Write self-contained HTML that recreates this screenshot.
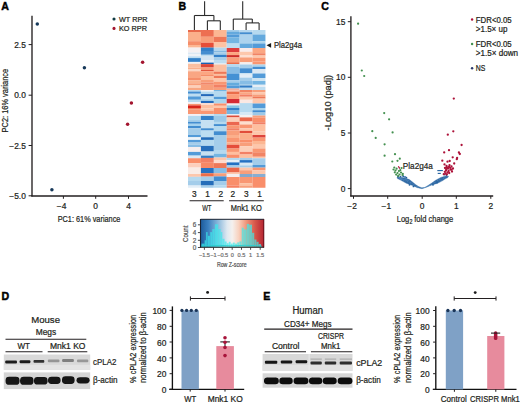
<!DOCTYPE html>
<html><head><meta charset="utf-8"><title>Figure</title>
<style>
html,body{margin:0;padding:0;background:#fff;width:520px;height:404px;overflow:hidden}
svg{display:block;font-family:"Liberation Sans", sans-serif}
text{stroke:currentColor;stroke-width:0.22px}
text.b{stroke-width:0.45px}
</style></head><body>
<svg width="520" height="404" viewBox="0 0 520 404">
<rect width="520" height="404" fill="#fff"/>
<text x="1.2" y="10.2" font-size="10.6" font-weight="bold" class="b" fill="#000" color="#000">A</text>
<line x1="32" y1="15.8" x2="32" y2="196.6" stroke="#231f20" stroke-width="1.35"/>
<line x1="31.4" y1="196" x2="147.5" y2="196" stroke="#231f20" stroke-width="1.35"/>
<line x1="28.6" y1="44.6" x2="32" y2="44.6" stroke="#231f20" stroke-width="1"/>
<text x="25.8" y="47.7" font-size="8.4" text-anchor="end" fill="#231f20" color="#231f20">2.5</text>
<line x1="28.6" y1="95.2" x2="32" y2="95.2" stroke="#231f20" stroke-width="1"/>
<text x="25.8" y="98.3" font-size="8.4" text-anchor="end" fill="#231f20" color="#231f20">0.0</text>
<line x1="28.6" y1="145.5" x2="32" y2="145.5" stroke="#231f20" stroke-width="1"/>
<text x="25.8" y="148.6" font-size="8.4" text-anchor="end" fill="#231f20" color="#231f20">−2.5</text>
<line x1="28.6" y1="195.8" x2="32" y2="195.8" stroke="#231f20" stroke-width="1"/>
<text x="25.8" y="198.9" font-size="8.4" text-anchor="end" fill="#231f20" color="#231f20">−5.0</text>
<line x1="63.4" y1="196" x2="63.4" y2="198.8" stroke="#231f20" stroke-width="1"/>
<text x="61.6" y="209.0" font-size="8.4" text-anchor="middle" fill="#231f20" color="#231f20">−4</text>
<line x1="95.7" y1="196" x2="95.7" y2="198.8" stroke="#231f20" stroke-width="1"/>
<text x="95.7" y="209.0" font-size="8.4" text-anchor="middle" fill="#231f20" color="#231f20">0</text>
<line x1="128.5" y1="196" x2="128.5" y2="198.8" stroke="#231f20" stroke-width="1"/>
<text x="128.5" y="209.0" font-size="8.4" text-anchor="middle" fill="#231f20" color="#231f20">4</text>
<text x="57.7" y="222" font-size="9.6" textLength="62.7" lengthAdjust="spacingAndGlyphs" fill="#231f20" color="#231f20">PC1: 61% variance</text>
<g transform="translate(8.4,132.4) rotate(-90)"><text x="0" y="0" font-size="9.6" textLength="63.5" lengthAdjust="spacingAndGlyphs" fill="#231f20" color="#231f20">PC2: 16% variance</text></g>
<circle cx="114.0" cy="19.0" r="1.55" fill="#123c42"/>
<circle cx="114.0" cy="28.4" r="1.55" fill="#a3142e"/>
<text x="119" y="21.8" font-size="7.4" textLength="28.5" lengthAdjust="spacingAndGlyphs" fill="#231f20" color="#231f20">WT RPR</text>
<text x="119" y="31.4" font-size="7.4" textLength="28" lengthAdjust="spacingAndGlyphs" fill="#231f20" color="#231f20">KO RPR</text>
<circle cx="37.3" cy="24" r="1.75" fill="#17395a"/>
<circle cx="84.4" cy="67.8" r="1.75" fill="#17395a"/>
<circle cx="51.9" cy="189.8" r="1.75" fill="#17395a"/>
<circle cx="142.6" cy="62.3" r="1.75" fill="#a3142e"/>
<circle cx="131.4" cy="103.1" r="1.75" fill="#a3142e"/>
<circle cx="127.6" cy="124.3" r="1.75" fill="#a3142e"/>
<text x="178.6" y="9.9" font-size="10.6" font-weight="bold" class="b" fill="#000" color="#000">B</text>
<line x1="204.6" y1="1.3" x2="204.6" y2="15.5" stroke="#2b2b2b" stroke-width="1.1"/>
<line x1="194.4" y1="15.5" x2="213.9" y2="15.5" stroke="#2b2b2b" stroke-width="1.1"/>
<line x1="194.4" y1="15.5" x2="194.4" y2="30" stroke="#2b2b2b" stroke-width="1.1"/>
<line x1="213.9" y1="15.5" x2="213.9" y2="20.8" stroke="#2b2b2b" stroke-width="1.1"/>
<line x1="207.4" y1="20.8" x2="220.3" y2="20.8" stroke="#2b2b2b" stroke-width="1.1"/>
<line x1="207.4" y1="20.8" x2="207.4" y2="30" stroke="#2b2b2b" stroke-width="1.1"/>
<line x1="220.3" y1="20.8" x2="220.3" y2="30" stroke="#2b2b2b" stroke-width="1.1"/>
<line x1="242.7" y1="1.3" x2="242.7" y2="19.1" stroke="#2b2b2b" stroke-width="1.1"/>
<line x1="233.3" y1="19.1" x2="252.3" y2="19.1" stroke="#2b2b2b" stroke-width="1.1"/>
<line x1="233.3" y1="19.1" x2="233.3" y2="30" stroke="#2b2b2b" stroke-width="1.1"/>
<line x1="252.3" y1="19.1" x2="252.3" y2="22.9" stroke="#2b2b2b" stroke-width="1.1"/>
<line x1="246.1" y1="22.9" x2="259.1" y2="22.9" stroke="#2b2b2b" stroke-width="1.1"/>
<line x1="246.1" y1="22.9" x2="246.1" y2="30" stroke="#2b2b2b" stroke-width="1.1"/>
<line x1="259.1" y1="22.9" x2="259.1" y2="30" stroke="#2b2b2b" stroke-width="1.1"/>
<g filter="url(#hm)"><rect x="188.0" y="30" width="12.95" height="2.05" fill="#dd6c52"/><rect x="188.0" y="32" width="12.95" height="9.25" fill="#f4b090"/><rect x="188.0" y="41.2" width="12.95" height="3.85" fill="#ec9070"/><rect x="188.0" y="45" width="12.95" height="2.65" fill="#f6b898"/><rect x="188.0" y="47.6" width="12.95" height="4.95" fill="#f4f0f2"/><rect x="188.0" y="52.5" width="12.95" height="1.55" fill="#dce8f2"/><rect x="188.0" y="54" width="12.95" height="2.35" fill="#eef2f6"/><rect x="188.0" y="56.3" width="12.95" height="1.85" fill="#c0dcee"/><rect x="188.0" y="58.1" width="12.95" height="3.85" fill="#3a80c0"/><rect x="188.0" y="61.9" width="12.95" height="1.9" fill="#f0f0f4"/><rect x="188.0" y="63.75" width="12.95" height="3.8" fill="#f6c0a4"/><rect x="188.0" y="67.5" width="12.95" height="1.55" fill="#f4b090"/><rect x="188.0" y="69" width="12.95" height="2.3" fill="#f8d8c8"/><rect x="188.0" y="71.25" width="12.95" height="6.8" fill="#f2a888"/><rect x="188.0" y="78" width="12.95" height="2.3" fill="#ec9070"/><rect x="188.0" y="80.25" width="12.95" height="3.05" fill="#f4b496"/><rect x="188.0" y="83.25" width="12.95" height="2.3" fill="#f0a080"/><rect x="188.0" y="85.5" width="12.95" height="2.3" fill="#f8d0bc"/><rect x="188.0" y="87.75" width="12.95" height="2.3" fill="#f0a888"/><rect x="188.0" y="90" width="12.95" height="1.55" fill="#b8d8ec"/><rect x="188.0" y="91.5" width="12.95" height="2.3" fill="#4a8cc8"/><rect x="188.0" y="93.75" width="12.95" height="2.7" fill="#c0dcee"/><rect x="188.0" y="96.4" width="12.95" height="3.4" fill="#5a9ad0"/><rect x="188.0" y="99.75" width="12.95" height="2.3" fill="#b8d8ec"/><rect x="188.0" y="102" width="12.95" height="1.95" fill="#f4f0f4"/><rect x="188.0" y="103.9" width="12.95" height="1.55" fill="#f09878"/><rect x="188.0" y="105.4" width="12.95" height="2.65" fill="#c82820"/><rect x="188.0" y="108" width="12.95" height="1.55" fill="#e47a5e"/><rect x="188.0" y="109.5" width="12.95" height="4.55" fill="#f09878"/><rect x="188.0" y="114" width="12.95" height="1.95" fill="#f4f0f4"/><rect x="188.0" y="115.9" width="12.95" height="4.15" fill="#b8d8ec"/><rect x="188.0" y="120" width="12.95" height="1.95" fill="#a8cce6"/><rect x="188.0" y="121.9" width="12.95" height="1.9" fill="#4a8cc8"/><rect x="188.0" y="123.75" width="12.95" height="2.3" fill="#a8d0ea"/><rect x="188.0" y="126" width="12.95" height="2.3" fill="#4a8cc8"/><rect x="188.0" y="128.25" width="12.95" height="6.8" fill="#a8cce6"/><rect x="188.0" y="135" width="12.95" height="2.3" fill="#5a9ad0"/><rect x="188.0" y="137.25" width="12.95" height="2.7" fill="#eef4f8"/><rect x="188.0" y="139.9" width="12.95" height="2.65" fill="#5a9ad0"/><rect x="188.0" y="142.5" width="12.95" height="2.3" fill="#a8cce6"/><rect x="188.0" y="144.75" width="12.95" height="2.3" fill="#8cbce0"/><rect x="188.0" y="147" width="12.95" height="4.95" fill="#f4eeee"/><rect x="188.0" y="151.9" width="12.95" height="3.75" fill="#5a9ad0"/><rect x="188.0" y="155.6" width="12.95" height="2.7" fill="#dce8f2"/><rect x="188.0" y="158.25" width="12.95" height="4.9" fill="#f09070"/><rect x="188.0" y="163.1" width="12.95" height="4.55" fill="#f8d0c0"/><rect x="188.0" y="167.6" width="12.95" height="6.45" fill="#f8ece8"/><rect x="188.0" y="174" width="12.95" height="2.85" fill="#f8c8b0"/><rect x="188.0" y="176.8" width="12.95" height="4.25" fill="#b8d8ec"/><rect x="188.0" y="181" width="12.95" height="4.55" fill="#a8cce6"/><rect x="188.0" y="185.5" width="12.95" height="2.25" fill="#e4eef6"/><rect x="200.9" y="30" width="12.95" height="6.8" fill="#e27258"/><rect x="200.9" y="36.75" width="12.95" height="6.05" fill="#f0a080"/><rect x="200.9" y="42.75" width="12.95" height="4.9" fill="#d9503e"/><rect x="200.9" y="47.6" width="12.95" height="3.45" fill="#3a7fc0"/><rect x="200.9" y="51" width="12.95" height="3.8" fill="#4a8cc8"/><rect x="200.9" y="54.75" width="12.95" height="1.2" fill="#b8d8ec"/><rect x="200.9" y="55.9" width="12.95" height="4.15" fill="#d4e4f0"/><rect x="200.9" y="60" width="12.95" height="2.65" fill="#eaf0f6"/><rect x="200.9" y="62.6" width="12.95" height="1.55" fill="#2060a8"/><rect x="200.9" y="64.1" width="12.95" height="3.45" fill="#d04a3c"/><rect x="200.9" y="67.5" width="12.95" height="2.3" fill="#f0a080"/><rect x="200.9" y="69.75" width="12.95" height="1.55" fill="#d65a44"/><rect x="200.9" y="71.25" width="12.95" height="3.8" fill="#f4a888"/><rect x="200.9" y="75" width="12.95" height="1.55" fill="#ec9070"/><rect x="200.9" y="76.5" width="12.95" height="3.05" fill="#f8c0a0"/><rect x="200.9" y="79.5" width="12.95" height="3.05" fill="#f0a080"/><rect x="200.9" y="82.5" width="12.95" height="2.3" fill="#e88a70"/><rect x="200.9" y="84.75" width="12.95" height="5.3" fill="#f0a080"/><rect x="200.9" y="90" width="12.95" height="1.55" fill="#f0f0f4"/><rect x="200.9" y="91.5" width="12.95" height="2.65" fill="#b8d8ec"/><rect x="200.9" y="94.1" width="12.95" height="2.35" fill="#2a68b0"/><rect x="200.9" y="96.4" width="12.95" height="2.25" fill="#c0dcee"/><rect x="200.9" y="98.6" width="12.95" height="2.35" fill="#b0d4ea"/><rect x="200.9" y="100.9" width="12.95" height="2.25" fill="#2a68b0"/><rect x="200.9" y="103.1" width="12.95" height="1.95" fill="#fadcd0"/><rect x="200.9" y="105" width="12.95" height="3.45" fill="#f8c0a4"/><rect x="200.9" y="108.4" width="12.95" height="2.25" fill="#f8c8b0"/><rect x="200.9" y="110.6" width="12.95" height="3.45" fill="#f09878"/><rect x="200.9" y="114" width="12.95" height="1.95" fill="#d8e8f2"/><rect x="200.9" y="115.9" width="12.95" height="4.15" fill="#3a80c0"/><rect x="200.9" y="120" width="12.95" height="8.3" fill="#c8e0f0"/><rect x="200.9" y="128.25" width="12.95" height="2.3" fill="#4a8cc8"/><rect x="200.9" y="130.5" width="12.95" height="6.8" fill="#c0dcee"/><rect x="200.9" y="137.25" width="12.95" height="2.7" fill="#2c6cb0"/><rect x="200.9" y="139.9" width="12.95" height="6.05" fill="#b8d8ec"/><rect x="200.9" y="145.9" width="12.95" height="5.65" fill="#2e6eb2"/><rect x="200.9" y="151.5" width="12.95" height="4.15" fill="#c8e0f0"/><rect x="200.9" y="155.6" width="12.95" height="2.35" fill="#3a7cbc"/><rect x="200.9" y="157.9" width="12.95" height="4.9" fill="#e8826a"/><rect x="200.9" y="162.75" width="12.95" height="5.3" fill="#ec8a6c"/><rect x="200.9" y="168" width="12.95" height="5.3" fill="#2c70b8"/><rect x="200.9" y="173.25" width="12.95" height="3.4" fill="#e07050"/><rect x="200.9" y="176.6" width="12.95" height="4.45" fill="#a8cce6"/><rect x="200.9" y="181" width="12.95" height="4.55" fill="#2c6cb0"/><rect x="200.9" y="185.5" width="12.95" height="2.25" fill="#a8cce6"/><rect x="213.8" y="30" width="12.95" height="6.8" fill="#f6b898"/><rect x="213.8" y="36.75" width="12.95" height="5.3" fill="#e47a5e"/><rect x="213.8" y="42" width="12.95" height="5.65" fill="#f8c4a8"/><rect x="213.8" y="47.6" width="12.95" height="3.05" fill="#b8d6ec"/><rect x="213.8" y="50.6" width="12.95" height="1.95" fill="#8ab8dc"/><rect x="213.8" y="52.5" width="12.95" height="2.3" fill="#a8cce6"/><rect x="213.8" y="54.75" width="12.95" height="2.3" fill="#3a7fc0"/><rect x="213.8" y="57" width="12.95" height="3.05" fill="#a8cce6"/><rect x="213.8" y="60" width="12.95" height="3.05" fill="#c0dcee"/><rect x="213.8" y="63" width="12.95" height="1.55" fill="#e0ecf4"/><rect x="213.8" y="64.5" width="12.95" height="7.15" fill="#f6c0a4"/><rect x="213.8" y="71.6" width="12.95" height="2.35" fill="#e47a5e"/><rect x="213.8" y="73.9" width="12.95" height="1.9" fill="#f6c0a4"/><rect x="213.8" y="75.75" width="12.95" height="2.3" fill="#e47a5e"/><rect x="213.8" y="78" width="12.95" height="3.8" fill="#f8c8b0"/><rect x="213.8" y="81.75" width="12.95" height="3.05" fill="#f09878"/><rect x="213.8" y="84.75" width="12.95" height="3.05" fill="#e8826a"/><rect x="213.8" y="87.75" width="12.95" height="2.3" fill="#f0a080"/><rect x="213.8" y="90" width="12.95" height="1.55" fill="#7ab4dc"/><rect x="213.8" y="91.5" width="12.95" height="5.3" fill="#b8d8ec"/><rect x="213.8" y="96.75" width="12.95" height="2.3" fill="#5a9ad0"/><rect x="213.8" y="99" width="12.95" height="4.55" fill="#b0d4ea"/><rect x="213.8" y="103.5" width="12.95" height="2.3" fill="#f09070"/><rect x="213.8" y="105.75" width="12.95" height="2.3" fill="#f8c8b0"/><rect x="213.8" y="108" width="12.95" height="6.05" fill="#f09070"/><rect x="213.8" y="114" width="12.95" height="1.95" fill="#b8d8ec"/><rect x="213.8" y="115.9" width="12.95" height="6.05" fill="#a0c8e4"/><rect x="213.8" y="121.9" width="12.95" height="2.25" fill="#b8d8ec"/><rect x="213.8" y="124.1" width="12.95" height="1.95" fill="#4a8cc8"/><rect x="213.8" y="126" width="12.95" height="5.3" fill="#b8d8ec"/><rect x="213.8" y="131.25" width="12.95" height="3.8" fill="#4a8cc8"/><rect x="213.8" y="135" width="12.95" height="15.05" fill="#a8cce6"/><rect x="213.8" y="150" width="12.95" height="3.8" fill="#b8d8ec"/><rect x="213.8" y="153.75" width="12.95" height="3.8" fill="#7ab4dc"/><rect x="213.8" y="157.5" width="12.95" height="3.05" fill="#f8c8b0"/><rect x="213.8" y="160.5" width="12.95" height="2.65" fill="#fadcd0"/><rect x="213.8" y="163.1" width="12.95" height="4.95" fill="#e47a5e"/><rect x="213.8" y="168" width="12.95" height="5.3" fill="#8cbce0"/><rect x="213.8" y="173.25" width="12.95" height="3.2" fill="#f0a080"/><rect x="213.8" y="176.4" width="12.95" height="4.65" fill="#4a8cc8"/><rect x="213.8" y="181" width="12.95" height="4.55" fill="#a8cce6"/><rect x="213.8" y="185.5" width="12.95" height="2.25" fill="#b8d8ec"/><rect x="226.7" y="30" width="12.95" height="1.55" fill="#a8cce6"/><rect x="226.7" y="31.5" width="12.95" height="3.05" fill="#6aa8d6"/><rect x="226.7" y="34.5" width="12.95" height="3.05" fill="#5a9ad0"/><rect x="226.7" y="37.5" width="12.95" height="6.05" fill="#7ab4dc"/><rect x="226.7" y="43.5" width="12.95" height="4.55" fill="#c0dcee"/><rect x="226.7" y="48" width="12.95" height="4.15" fill="#d04040"/><rect x="226.7" y="52.1" width="12.95" height="3.05" fill="#f4a888"/><rect x="226.7" y="55.1" width="12.95" height="2.35" fill="#c0302c"/><rect x="226.7" y="57.4" width="12.95" height="4.9" fill="#f2a080"/><rect x="226.7" y="62.25" width="12.95" height="1.9" fill="#e07050"/><rect x="226.7" y="64.1" width="12.95" height="2.7" fill="#b8d8ec"/><rect x="226.7" y="66.75" width="12.95" height="6.8" fill="#8cbce0"/><rect x="226.7" y="73.5" width="12.95" height="6.8" fill="#4a90cc"/><rect x="226.7" y="80.25" width="12.95" height="2.3" fill="#a8cce6"/><rect x="226.7" y="82.5" width="12.95" height="3.05" fill="#6aaad6"/><rect x="226.7" y="85.5" width="12.95" height="3.05" fill="#5a9ad0"/><rect x="226.7" y="88.5" width="12.95" height="1.55" fill="#f0b0a0"/><rect x="226.7" y="90" width="12.95" height="1.55" fill="#f4c0b0"/><rect x="226.7" y="91.5" width="12.95" height="2.65" fill="#e07050"/><rect x="226.7" y="94.1" width="12.95" height="4.95" fill="#f4a080"/><rect x="226.7" y="99" width="12.95" height="4.55" fill="#c83038"/><rect x="226.7" y="103.5" width="12.95" height="1.95" fill="#f4ecec"/><rect x="226.7" y="105.4" width="12.95" height="2.65" fill="#8cc4e0"/><rect x="226.7" y="108" width="12.95" height="2.65" fill="#3a80c0"/><rect x="226.7" y="110.6" width="12.95" height="3.45" fill="#7ab4dc"/><rect x="226.7" y="114" width="12.95" height="1.55" fill="#e8eef4"/><rect x="226.7" y="115.5" width="12.95" height="1.95" fill="#d05040"/><rect x="226.7" y="117.4" width="12.95" height="4.55" fill="#f8d0bc"/><rect x="226.7" y="121.9" width="12.95" height="3.4" fill="#e06a55"/><rect x="226.7" y="125.25" width="12.95" height="3.05" fill="#f09878"/><rect x="226.7" y="128.25" width="12.95" height="2.3" fill="#e8826a"/><rect x="226.7" y="130.5" width="12.95" height="4.55" fill="#f0a080"/><rect x="226.7" y="135" width="12.95" height="3.05" fill="#f4b090"/><rect x="226.7" y="138" width="12.95" height="4.55" fill="#f09878"/><rect x="226.7" y="142.5" width="12.95" height="2.3" fill="#f4b090"/><rect x="226.7" y="144.75" width="12.95" height="3.8" fill="#d85040"/><rect x="226.7" y="148.5" width="12.95" height="3.45" fill="#f09878"/><rect x="226.7" y="151.9" width="12.95" height="2.65" fill="#f8c0a4"/><rect x="226.7" y="154.5" width="12.95" height="3.45" fill="#f09070"/><rect x="226.7" y="157.9" width="12.95" height="2.25" fill="#b8d8ec"/><rect x="226.7" y="160.1" width="12.95" height="2.35" fill="#e8f0f6"/><rect x="226.7" y="162.4" width="12.95" height="3.05" fill="#2c70b8"/><rect x="226.7" y="165.4" width="12.95" height="2.25" fill="#a8cce6"/><rect x="226.7" y="167.6" width="12.95" height="4.95" fill="#e06a50"/><rect x="226.7" y="172.5" width="12.95" height="1.55" fill="#f8c8b0"/><rect x="226.7" y="174" width="12.95" height="3.05" fill="#f4eeee"/><rect x="226.7" y="177" width="12.95" height="8.55" fill="#f09070"/><rect x="226.7" y="185.5" width="12.95" height="2.25" fill="#ec8266"/><rect x="239.6" y="30" width="12.95" height="2.3" fill="#b8d6ec"/><rect x="239.6" y="32.25" width="12.95" height="2.3" fill="#4a8cc8"/><rect x="239.6" y="34.5" width="12.95" height="9.05" fill="#b0d2ea"/><rect x="239.6" y="43.5" width="12.95" height="4.55" fill="#6aa8d6"/><rect x="239.6" y="48" width="12.95" height="3.8" fill="#f8ecec"/><rect x="239.6" y="51.75" width="12.95" height="3.8" fill="#f8c8b0"/><rect x="239.6" y="55.5" width="12.95" height="1.95" fill="#fae0d4"/><rect x="239.6" y="57.4" width="12.95" height="4.9" fill="#f0a080"/><rect x="239.6" y="62.25" width="12.95" height="2.3" fill="#f4eeee"/><rect x="239.6" y="64.5" width="12.95" height="3.8" fill="#a8cce6"/><rect x="239.6" y="68.25" width="12.95" height="4.9" fill="#4a8cc8"/><rect x="239.6" y="73.1" width="12.95" height="1.55" fill="#c8e0f0"/><rect x="239.6" y="74.6" width="12.95" height="3.05" fill="#e4eef6"/><rect x="239.6" y="77.6" width="12.95" height="3.45" fill="#a8cce6"/><rect x="239.6" y="81" width="12.95" height="3.05" fill="#8cbce0"/><rect x="239.6" y="84" width="12.95" height="1.55" fill="#a8cce6"/><rect x="239.6" y="85.5" width="12.95" height="2.3" fill="#3a7cbc"/><rect x="239.6" y="87.75" width="12.95" height="2.3" fill="#c0dcee"/><rect x="239.6" y="90" width="12.95" height="2.3" fill="#e8866a"/><rect x="239.6" y="92.25" width="12.95" height="2.3" fill="#f4a888"/><rect x="239.6" y="94.5" width="12.95" height="2.3" fill="#e8826a"/><rect x="239.6" y="96.75" width="12.95" height="3.05" fill="#f8c8b0"/><rect x="239.6" y="99.75" width="12.95" height="3.4" fill="#f8e8e4"/><rect x="239.6" y="103.1" width="12.95" height="9.45" fill="#b8d8ec"/><rect x="239.6" y="112.5" width="12.95" height="2.65" fill="#d8e8f2"/><rect x="239.6" y="115.1" width="12.95" height="2.35" fill="#f4f0f0"/><rect x="239.6" y="117.4" width="12.95" height="4.15" fill="#e06a50"/><rect x="239.6" y="121.5" width="12.95" height="3.05" fill="#fae0d0"/><rect x="239.6" y="124.5" width="12.95" height="3.8" fill="#f09878"/><rect x="239.6" y="128.25" width="12.95" height="2.7" fill="#f8c8b0"/><rect x="239.6" y="130.9" width="12.95" height="2.25" fill="#d45040"/><rect x="239.6" y="133.1" width="12.95" height="6.45" fill="#f4b090"/><rect x="239.6" y="139.5" width="12.95" height="3.05" fill="#f09070"/><rect x="239.6" y="142.5" width="12.95" height="3.8" fill="#f0a080"/><rect x="239.6" y="146.25" width="12.95" height="5.7" fill="#f8d0bc"/><rect x="239.6" y="151.9" width="12.95" height="2.65" fill="#e8826a"/><rect x="239.6" y="154.5" width="12.95" height="3.45" fill="#f8c0a4"/><rect x="239.6" y="157.9" width="12.95" height="2.25" fill="#a8cce6"/><rect x="239.6" y="160.1" width="12.95" height="2.7" fill="#2c70b8"/><rect x="239.6" y="162.75" width="12.95" height="2.7" fill="#d8e8f2"/><rect x="239.6" y="165.4" width="12.95" height="2.25" fill="#a8cce6"/><rect x="239.6" y="167.6" width="12.95" height="2.7" fill="#f8c8b0"/><rect x="239.6" y="170.25" width="12.95" height="3.8" fill="#f0a080"/><rect x="239.6" y="174" width="12.95" height="3.05" fill="#88a8c8"/><rect x="239.6" y="177" width="12.95" height="6.25" fill="#f09878"/><rect x="239.6" y="183.2" width="12.95" height="2.35" fill="#f8c0a4"/><rect x="239.6" y="185.5" width="12.95" height="2.25" fill="#f0a080"/><rect x="252.5" y="30" width="12.95" height="4.55" fill="#b8d8ec"/><rect x="252.5" y="34.5" width="12.95" height="6.8" fill="#6aa8d6"/><rect x="252.5" y="41.25" width="12.95" height="2.3" fill="#b0d4ea"/><rect x="252.5" y="43.5" width="12.95" height="4.55" fill="#5a9ad0"/><rect x="252.5" y="48" width="12.95" height="5.3" fill="#f4a888"/><rect x="252.5" y="53.25" width="12.95" height="2.3" fill="#e8866a"/><rect x="252.5" y="55.5" width="12.95" height="2.3" fill="#f8c8b0"/><rect x="252.5" y="57.75" width="12.95" height="3.8" fill="#f09878"/><rect x="252.5" y="61.5" width="12.95" height="3.05" fill="#f09878"/><rect x="252.5" y="64.5" width="12.95" height="2.3" fill="#b0d4ea"/><rect x="252.5" y="66.75" width="12.95" height="2.3" fill="#4a8cc8"/><rect x="252.5" y="69" width="12.95" height="4.55" fill="#dce8f2"/><rect x="252.5" y="73.5" width="12.95" height="4.55" fill="#5a9ad0"/><rect x="252.5" y="78" width="12.95" height="3.05" fill="#d0e4f0"/><rect x="252.5" y="81" width="12.95" height="3.8" fill="#7ab4dc"/><rect x="252.5" y="84.75" width="12.95" height="2.3" fill="#e8eef4"/><rect x="252.5" y="87" width="12.95" height="3.05" fill="#c0dcee"/><rect x="252.5" y="90" width="12.95" height="2.3" fill="#f0a080"/><rect x="252.5" y="92.25" width="12.95" height="2.3" fill="#f8c8b0"/><rect x="252.5" y="94.5" width="12.95" height="2.3" fill="#f0a080"/><rect x="252.5" y="96.75" width="12.95" height="1.9" fill="#e47a5e"/><rect x="252.5" y="98.6" width="12.95" height="4.95" fill="#f8c8b0"/><rect x="252.5" y="103.5" width="12.95" height="4.55" fill="#5a9ad0"/><rect x="252.5" y="108" width="12.95" height="2.3" fill="#b0d4ea"/><rect x="252.5" y="110.25" width="12.95" height="2.3" fill="#4a8cc8"/><rect x="252.5" y="112.5" width="12.95" height="3.05" fill="#a0c8e4"/><rect x="252.5" y="115.5" width="12.95" height="2.3" fill="#f0a080"/><rect x="252.5" y="117.75" width="12.95" height="4.55" fill="#f09070"/><rect x="252.5" y="122.25" width="12.95" height="2.3" fill="#e8826a"/><rect x="252.5" y="124.5" width="12.95" height="6.8" fill="#f8c0a4"/><rect x="252.5" y="131.25" width="12.95" height="3.8" fill="#f8c8b0"/><rect x="252.5" y="135" width="12.95" height="2.65" fill="#d04840"/><rect x="252.5" y="137.6" width="12.95" height="3.45" fill="#f09878"/><rect x="252.5" y="141" width="12.95" height="3.8" fill="#f6b898"/><rect x="252.5" y="144.75" width="12.95" height="3.8" fill="#f8c8b0"/><rect x="252.5" y="148.5" width="12.95" height="3.8" fill="#f09878"/><rect x="252.5" y="152.25" width="12.95" height="4.55" fill="#e8866a"/><rect x="252.5" y="156.75" width="12.95" height="1.55" fill="#f8c8b0"/><rect x="252.5" y="158.25" width="12.95" height="6.8" fill="#a8cce6"/><rect x="252.5" y="165" width="12.95" height="2.65" fill="#5a9ad0"/><rect x="252.5" y="167.6" width="12.95" height="2.7" fill="#f09878"/><rect x="252.5" y="170.25" width="12.95" height="3.8" fill="#f8c8b0"/><rect x="252.5" y="174" width="12.95" height="3.05" fill="#8caccc"/><rect x="252.5" y="177" width="12.95" height="10.75" fill="#f09070"/></g>
<path d="M266.5,45.3 L271.1,42.9 L271.1,47.7 Z" fill="#1a1a1a"/>
<text x="273.9" y="47.6" font-size="8.6" textLength="28.2" lengthAdjust="spacingAndGlyphs" fill="#231f20" color="#231f20">Pla2g4a</text>
<text x="194.4" y="197.4" font-size="8.3" text-anchor="middle" fill="#231f20" color="#231f20">3</text>
<text x="207.5" y="197.4" font-size="8.3" text-anchor="middle" fill="#231f20" color="#231f20">1</text>
<text x="220.7" y="197.4" font-size="8.3" text-anchor="middle" fill="#231f20" color="#231f20">2</text>
<text x="232.8" y="197.4" font-size="8.3" text-anchor="middle" fill="#231f20" color="#231f20">2</text>
<text x="246.3" y="197.4" font-size="8.3" text-anchor="middle" fill="#231f20" color="#231f20">3</text>
<text x="259.6" y="197.4" font-size="8.3" text-anchor="middle" fill="#231f20" color="#231f20">1</text>
<line x1="189.6" y1="200.8" x2="223.7" y2="200.8" stroke="#231f20" stroke-width="1.1"/>
<line x1="229.1" y1="200.8" x2="263.8" y2="200.8" stroke="#231f20" stroke-width="1.1"/>
<text x="202.2" y="210.9" font-size="9.2" textLength="9.3" lengthAdjust="spacingAndGlyphs" fill="#231f20" color="#231f20">WT</text>
<text x="230.8" y="210.9" font-size="9.2" textLength="31" lengthAdjust="spacingAndGlyphs" fill="#231f20" color="#231f20">Mnk1 KO</text>
<defs>
<linearGradient id="ck" x1="0" x2="1" y1="0" y2="0">
<stop offset="0" stop-color="#1c5a9a"/><stop offset="0.12" stop-color="#3a7fbf"/><stop offset="0.28" stop-color="#8dbadc"/>
<stop offset="0.42" stop-color="#dfe9f1"/><stop offset="0.5" stop-color="#f5f1ee"/><stop offset="0.6" stop-color="#f8d2bf"/>
<stop offset="0.72" stop-color="#f0957a"/><stop offset="0.86" stop-color="#d6564a"/><stop offset="1" stop-color="#b42432"/>
</linearGradient>
<filter id="bl" x="-5%" y="-5%" width="110%" height="110%"><feGaussianBlur stdDeviation="0.55"/></filter>
<filter id="hm" x="-5%" y="-5%" width="110%" height="110%" color-interpolation-filters="sRGB"><feGaussianBlur stdDeviation="0.55"/><feColorMatrix type="saturate" values="1.12"/></filter>
<filter id="bb" x="-10%" y="-30%" width="120%" height="160%"><feGaussianBlur stdDeviation="0.4"/></filter>
</defs>
<rect x="200.5" y="219.2" width="63.5" height="28" fill="url(#ck)"/>
<g filter="url(#bl)"><rect x="201.5" y="243.6" width="3.00" height="3.60" fill="#3aeeee" fill-opacity="0.68"/><rect x="204.6" y="240.3" width="1.40" height="6.90" fill="#3aeeee" fill-opacity="0.68"/><rect x="206.1" y="232.1" width="1.50" height="15.10" fill="#3aeeee" fill-opacity="0.68"/><rect x="207.8" y="235.8" width="2.10" height="11.40" fill="#3aeeee" fill-opacity="0.68"/><rect x="210.2" y="232.1" width="2.00" height="15.10" fill="#3aeeee" fill-opacity="0.68"/><rect x="212.3" y="229.1" width="2.40" height="18.10" fill="#3aeeee" fill-opacity="0.68"/><rect x="214.9" y="224.3" width="3.30" height="22.90" fill="#3aeeee" fill-opacity="0.68"/><rect x="218.3" y="229.1" width="2.40" height="18.10" fill="#3aeeee" fill-opacity="0.68"/><rect x="220.8" y="232.1" width="1.50" height="15.10" fill="#3aeeee" fill-opacity="0.68"/><rect x="222.4" y="238.8" width="2.10" height="8.40" fill="#3aeeee" fill-opacity="0.68"/><rect x="224.6" y="241.5" width="2.00" height="5.70" fill="#3aeeee" fill-opacity="0.68"/><rect x="226.8" y="243.2" width="1.80" height="4.00" fill="#3aeeee" fill-opacity="0.68"/><rect x="228.8" y="241.8" width="1.80" height="5.40" fill="#3aeeee" fill-opacity="0.68"/><rect x="230.8" y="243.6" width="1.80" height="3.60" fill="#3aeeee" fill-opacity="0.68"/><rect x="232.8" y="242.6" width="2.00" height="4.60" fill="#3aeeee" fill-opacity="0.68"/><rect x="235" y="243.6" width="2.00" height="3.60" fill="#3aeeee" fill-opacity="0.68"/><rect x="237.2" y="242.4" width="2.00" height="4.80" fill="#3aeeee" fill-opacity="0.68"/><rect x="239.4" y="241.4" width="2.10" height="5.80" fill="#3aeeee" fill-opacity="0.68"/><rect x="241.7" y="227.7" width="2.10" height="19.50" fill="#3aeeee" fill-opacity="0.68"/><rect x="243.9" y="229.4" width="2.80" height="17.80" fill="#3aeeee" fill-opacity="0.68"/><rect x="246.8" y="223.9" width="2.20" height="23.30" fill="#3aeeee" fill-opacity="0.68"/><rect x="249.1" y="224.7" width="2.90" height="22.50" fill="#3aeeee" fill-opacity="0.68"/><rect x="252.1" y="232.8" width="2.10" height="14.40" fill="#3aeeee" fill-opacity="0.68"/><rect x="254.3" y="239.5" width="2.10" height="7.70" fill="#3aeeee" fill-opacity="0.68"/><rect x="256.5" y="241.8" width="2.10" height="5.40" fill="#3aeeee" fill-opacity="0.68"/><rect x="258.7" y="244.0" width="2.30" height="3.20" fill="#3aeeee" fill-opacity="0.68"/></g>
<polyline points="201,246.2 210,245.6 220,245.4 232,245.9 245,245.3 255,245.6 262,246.3" fill="none" stroke="#2ad0d0" stroke-width="0.9"/>
<line x1="200.5" y1="219.3" x2="264" y2="219.3" stroke="#1a2230" stroke-width="1"/>
<line x1="200.5" y1="219" x2="200.5" y2="247.6" stroke="#1a2230" stroke-width="1.1"/>
<line x1="263.8" y1="219" x2="263.8" y2="247.6" stroke="#5a1018" stroke-width="0.9"/>
<line x1="200" y1="247.3" x2="264" y2="247.3" stroke="#1a1a1a" stroke-width="1.1"/>
<line x1="197.9" y1="224.8" x2="200.5" y2="224.8" stroke="#333" stroke-width="0.9"/>
<text x="196.3" y="227.10000000000002" font-size="6.4" text-anchor="end" fill="#606060" color="#606060">6</text>
<line x1="197.9" y1="232.6" x2="200.5" y2="232.6" stroke="#333" stroke-width="0.9"/>
<text x="196.3" y="234.9" font-size="6.4" text-anchor="end" fill="#606060" color="#606060">4</text>
<line x1="197.9" y1="240.3" x2="200.5" y2="240.3" stroke="#333" stroke-width="0.9"/>
<text x="196.3" y="242.60000000000002" font-size="6.4" text-anchor="end" fill="#606060" color="#606060">2</text>
<line x1="197.9" y1="247.5" x2="200.5" y2="247.5" stroke="#333" stroke-width="0.9"/>
<text x="196.3" y="249.8" font-size="6.4" text-anchor="end" fill="#606060" color="#606060">0</text>
<line x1="204.4" y1="247.3" x2="204.4" y2="249.8" stroke="#333" stroke-width="0.9"/>
<text x="204.4" y="257.2" font-size="5.6" text-anchor="middle" fill="#707070" color="#707070">−1.5</text>
<line x1="213.5" y1="247.3" x2="213.5" y2="249.8" stroke="#333" stroke-width="0.9"/>
<text x="213.5" y="257.2" font-size="5.6" text-anchor="middle" fill="#707070" color="#707070">−1</text>
<line x1="222.7" y1="247.3" x2="222.7" y2="249.8" stroke="#333" stroke-width="0.9"/>
<text x="222.7" y="257.2" font-size="5.6" text-anchor="middle" fill="#707070" color="#707070">−0.5</text>
<line x1="232.2" y1="247.3" x2="232.2" y2="249.8" stroke="#333" stroke-width="0.9"/>
<text x="232.2" y="257.2" font-size="5.6" text-anchor="middle" fill="#707070" color="#707070">0</text>
<line x1="241.5" y1="247.3" x2="241.5" y2="249.8" stroke="#333" stroke-width="0.9"/>
<text x="241.5" y="257.2" font-size="5.6" text-anchor="middle" fill="#707070" color="#707070">0.5</text>
<line x1="250.6" y1="247.3" x2="250.6" y2="249.8" stroke="#333" stroke-width="0.9"/>
<text x="250.6" y="257.2" font-size="5.6" text-anchor="middle" fill="#707070" color="#707070">1</text>
<line x1="260.2" y1="247.3" x2="260.2" y2="249.8" stroke="#333" stroke-width="0.9"/>
<text x="260.2" y="257.2" font-size="5.6" text-anchor="middle" fill="#707070" color="#707070">1.5</text>
<g transform="translate(187.7,242) rotate(-90)"><text x="0" y="0" font-size="6.8" textLength="16.5" lengthAdjust="spacingAndGlyphs" fill="#505050" color="#505050">Count</text></g>
<text x="216.9" y="266.8" font-size="7.2" textLength="29.7" lengthAdjust="spacingAndGlyphs" fill="#505050" color="#505050">Row Z-score</text>
<text x="321.3" y="10.1" font-size="10.6" font-weight="bold" class="b" fill="#000" color="#000">C</text>
<line x1="350.9" y1="16.3" x2="350.9" y2="196.6" stroke="#231f20" stroke-width="1.35"/>
<line x1="350.3" y1="196" x2="493.2" y2="196" stroke="#231f20" stroke-width="1.35"/>
<line x1="347.8" y1="188.6" x2="350.9" y2="188.6" stroke="#231f20" stroke-width="1"/>
<text x="345.4" y="191.6" font-size="8.4" text-anchor="end" fill="#231f20" color="#231f20">0</text>
<line x1="347.8" y1="133.0" x2="350.9" y2="133.0" stroke="#231f20" stroke-width="1"/>
<text x="345.4" y="136.0" font-size="8.4" text-anchor="end" fill="#231f20" color="#231f20">5</text>
<line x1="347.8" y1="77.3" x2="350.9" y2="77.3" stroke="#231f20" stroke-width="1"/>
<text x="345.4" y="80.3" font-size="8.4" text-anchor="end" fill="#231f20" color="#231f20">10</text>
<line x1="347.8" y1="21.7" x2="350.9" y2="21.7" stroke="#231f20" stroke-width="1"/>
<text x="345.4" y="24.7" font-size="8.4" text-anchor="end" fill="#231f20" color="#231f20">15</text>
<line x1="353.5" y1="196" x2="353.5" y2="198.8" stroke="#231f20" stroke-width="1"/>
<text x="352.1" y="208.9" font-size="8.4" text-anchor="middle" fill="#231f20" color="#231f20">−2</text>
<line x1="387.7" y1="196" x2="387.7" y2="198.8" stroke="#231f20" stroke-width="1"/>
<text x="386.3" y="208.9" font-size="8.4" text-anchor="middle" fill="#231f20" color="#231f20">−1</text>
<line x1="422.2" y1="196" x2="422.2" y2="198.8" stroke="#231f20" stroke-width="1"/>
<text x="422.2" y="208.9" font-size="8.4" text-anchor="middle" fill="#231f20" color="#231f20">0</text>
<line x1="456.3" y1="196" x2="456.3" y2="198.8" stroke="#231f20" stroke-width="1"/>
<text x="456.3" y="208.9" font-size="8.4" text-anchor="middle" fill="#231f20" color="#231f20">1</text>
<line x1="490.8" y1="196" x2="490.8" y2="198.8" stroke="#231f20" stroke-width="1"/>
<text x="490.8" y="208.9" font-size="8.4" text-anchor="middle" fill="#231f20" color="#231f20">2</text>
<text x="396.7" y="222.0" font-size="9.4" textLength="12.6" lengthAdjust="spacingAndGlyphs" fill="#231f20" color="#231f20">Log</text>
<text x="409.5" y="223.8" font-size="6.4" textLength="2.9" lengthAdjust="spacingAndGlyphs" fill="#231f20" color="#231f20">2</text>
<text x="414.2" y="222.0" font-size="9.4" textLength="39.1" lengthAdjust="spacingAndGlyphs" fill="#231f20" color="#231f20">fold change</text>
<g transform="translate(331.2,130.4) rotate(-90)"><text x="0" y="0" font-size="8.6" textLength="55.6" lengthAdjust="spacingAndGlyphs" fill="#231f20" color="#231f20">-Log10 (padj)</text></g>
<circle cx="472.1" cy="19.5" r="1.2" fill="#ad1239"/>
<circle cx="472.1" cy="44" r="1.2" fill="#43904f"/>
<circle cx="472.1" cy="68.2" r="1.2" fill="#2a3a6a"/>
<text x="475.8" y="22.6" font-size="8.2" textLength="35.9" lengthAdjust="spacingAndGlyphs" fill="#231f20" color="#231f20">FDR&lt;0.05</text>
<text x="475.8" y="32.1" font-size="8.2" textLength="31.6" lengthAdjust="spacingAndGlyphs" fill="#231f20" color="#231f20">&gt;1.5× up</text>
<text x="475.8" y="46.8" font-size="8.2" textLength="35.9" lengthAdjust="spacingAndGlyphs" fill="#231f20" color="#231f20">FDR&lt;0.05</text>
<text x="475.8" y="56.2" font-size="8.2" textLength="42.2" lengthAdjust="spacingAndGlyphs" fill="#231f20" color="#231f20">&gt;1.5× down</text>
<text x="475.8" y="71" font-size="8.2" textLength="9.6" lengthAdjust="spacingAndGlyphs" fill="#231f20" color="#231f20">NS</text>
<path d="M397,177 L403,177.4 L406,178.3 L409.4,179.6 L412.5,181.9 L415.5,184.4 L418.6,186.6 L421.7,187.7 L424.5,187.5 L426.9,186.2 L431.8,183.0 L435.2,180.5 L438,178.9 L440.8,177.4 L445.6,175.9 L448.6,176.3 L447.9,177.6 L445,179.0 L442.9,180.5 L440,182.1 L437.3,183.4 L431.8,185.1 L426.9,187.0 L422,188.7 L417.4,187.7 L412.5,185.6 L409,184.2 L406.3,183.3 L403.2,181.6 L400,179.8 L397.4,178.6 Z" fill="#22609e" fill-opacity="0.92" stroke="#22609e" stroke-width="0.3" stroke-linejoin="round"/>
<circle cx="414.2" cy="184.0" r="0.35" fill="#6a9ccc"/><circle cx="429.6" cy="184.8" r="0.35" fill="#6a9ccc"/><circle cx="424.2" cy="187.8" r="0.35" fill="#6a9ccc"/><circle cx="401.7" cy="179.1" r="0.35" fill="#6a9ccc"/><circle cx="400.8" cy="178.6" r="0.35" fill="#6a9ccc"/><circle cx="402.3" cy="177.9" r="0.35" fill="#6a9ccc"/><circle cx="419.0" cy="187.6" r="0.35" fill="#6a9ccc"/><circle cx="404.8" cy="179.1" r="0.35" fill="#6a9ccc"/><circle cx="428.5" cy="186.1" r="0.35" fill="#6a9ccc"/><circle cx="426.1" cy="186.9" r="0.35" fill="#6a9ccc"/><circle cx="444.9" cy="176.5" r="0.35" fill="#6a9ccc"/><circle cx="439.3" cy="179.5" r="0.35" fill="#6a9ccc"/><circle cx="405.8" cy="179.0" r="0.35" fill="#6a9ccc"/><circle cx="413.5" cy="185.2" r="0.35" fill="#6a9ccc"/><circle cx="407.5" cy="181.6" r="0.35" fill="#6a9ccc"/><circle cx="429.0" cy="185.4" r="0.35" fill="#6a9ccc"/><circle cx="424.7" cy="187.7" r="0.35" fill="#6a9ccc"/><circle cx="401.8" cy="178.2" r="0.35" fill="#6a9ccc"/><circle cx="431.0" cy="184.4" r="0.35" fill="#6a9ccc"/><circle cx="413.8" cy="184.8" r="0.35" fill="#6a9ccc"/><circle cx="420.3" cy="187.7" r="0.35" fill="#6a9ccc"/><circle cx="436.3" cy="182.4" r="0.35" fill="#6a9ccc"/><circle cx="410.5" cy="182.9" r="0.35" fill="#6a9ccc"/><circle cx="423.7" cy="187.8" r="0.35" fill="#6a9ccc"/><circle cx="433.3" cy="182.8" r="0.35" fill="#6a9ccc"/><circle cx="445.1" cy="176.6" r="0.35" fill="#6a9ccc"/><circle cx="418.7" cy="187.5" r="0.35" fill="#6a9ccc"/><circle cx="406.1" cy="180.7" r="0.35" fill="#6a9ccc"/><circle cx="400.8" cy="179.2" r="0.35" fill="#6a9ccc"/><circle cx="434.9" cy="182.6" r="0.35" fill="#6a9ccc"/><circle cx="440.1" cy="179.2" r="0.35" fill="#6a9ccc"/><circle cx="431.7" cy="184.3" r="0.35" fill="#6a9ccc"/><circle cx="426.3" cy="186.9" r="0.35" fill="#6a9ccc"/><circle cx="438.5" cy="182.3" r="0.35" fill="#6a9ccc"/><circle cx="421.3" cy="188.1" r="0.35" fill="#6a9ccc"/><circle cx="401.9" cy="179.7" r="0.35" fill="#6a9ccc"/><circle cx="429.4" cy="185.7" r="0.35" fill="#6a9ccc"/><circle cx="437.6" cy="180.4" r="0.35" fill="#6a9ccc"/><circle cx="417.1" cy="186.8" r="0.35" fill="#6a9ccc"/><circle cx="400.1" cy="178.4" r="0.35" fill="#6a9ccc"/><circle cx="406.9" cy="179.4" r="0.35" fill="#6a9ccc"/><circle cx="401.8" cy="179.8" r="0.35" fill="#6a9ccc"/><circle cx="405.1" cy="179.3" r="0.35" fill="#6a9ccc"/><circle cx="417.4" cy="187.2" r="0.35" fill="#6a9ccc"/><circle cx="402.8" cy="179.2" r="0.35" fill="#6a9ccc"/><circle cx="424.8" cy="187.4" r="0.35" fill="#6a9ccc"/><circle cx="437.5" cy="182.5" r="0.35" fill="#6a9ccc"/><circle cx="412.1" cy="183.2" r="0.35" fill="#6a9ccc"/><circle cx="415.9" cy="186.5" r="0.35" fill="#6a9ccc"/><circle cx="444.0" cy="177.1" r="0.35" fill="#6a9ccc"/><circle cx="407.3" cy="180.1" r="0.35" fill="#6a9ccc"/><circle cx="410.0" cy="182.2" r="0.35" fill="#6a9ccc"/><circle cx="426.7" cy="186.7" r="0.35" fill="#6a9ccc"/><circle cx="399.2" cy="178.2" r="0.35" fill="#6a9ccc"/><circle cx="416.4" cy="186.2" r="0.35" fill="#6a9ccc"/><circle cx="443.8" cy="178.7" r="0.35" fill="#6a9ccc"/><circle cx="423.2" cy="187.9" r="0.35" fill="#6a9ccc"/><circle cx="430.8" cy="184.0" r="0.35" fill="#6a9ccc"/><circle cx="441.3" cy="180.3" r="0.35" fill="#6a9ccc"/><circle cx="440.1" cy="181.0" r="0.35" fill="#6a9ccc"/><circle cx="417.4" cy="186.6" r="0.35" fill="#6a9ccc"/><circle cx="403.9" cy="180.3" r="0.35" fill="#6a9ccc"/><circle cx="401.9" cy="177.8" r="0.35" fill="#6a9ccc"/><circle cx="408.8" cy="180.4" r="0.35" fill="#6a9ccc"/><circle cx="415.0" cy="184.4" r="0.35" fill="#6a9ccc"/><circle cx="399.0" cy="177.7" r="0.35" fill="#6a9ccc"/><circle cx="403.8" cy="179.3" r="0.35" fill="#6a9ccc"/><circle cx="400.2" cy="179.3" r="0.35" fill="#6a9ccc"/><circle cx="427.9" cy="185.9" r="0.35" fill="#6a9ccc"/><circle cx="410.9" cy="182.3" r="0.35" fill="#6a9ccc"/>
<line x1="437.3" y1="170.6" x2="442.9" y2="170.6" stroke="#22609e" stroke-width="1.1"/>
<line x1="437.7" y1="173.4" x2="440.8" y2="173.4" stroke="#22609e" stroke-width="1.1"/>
<circle cx="398" cy="176.2" r="0.9" fill="#22609e"/>
<circle cx="400.5" cy="176.6" r="0.9" fill="#22609e"/>
<circle cx="403.2" cy="176.2" r="0.9" fill="#22609e"/>
<circle cx="405" cy="176.9" r="0.9" fill="#22609e"/>
<circle cx="406.4" cy="177.6" r="0.9" fill="#22609e"/>
<circle cx="444.2" cy="174.6" r="0.9" fill="#22609e"/>
<circle cx="446.5" cy="175" r="0.9" fill="#22609e"/>
<circle cx="409.5" cy="184.8" r="0.9" fill="#22609e"/>
<circle cx="413.5" cy="186.4" r="0.9" fill="#22609e"/>
<circle cx="433" cy="184.8" r="0.9" fill="#22609e"/>
<circle cx="437" cy="182.4" r="0.9" fill="#22609e"/>
<circle cx="358.1" cy="23.7" r="1.1" fill="#43904f"/>
<circle cx="361.8" cy="70.5" r="1.1" fill="#43904f"/>
<circle cx="364.2" cy="76" r="1.1" fill="#43904f"/>
<circle cx="384.2" cy="113.1" r="1.1" fill="#43904f"/>
<circle cx="389.1" cy="119.3" r="1.1" fill="#43904f"/>
<circle cx="372.3" cy="131.2" r="1.1" fill="#43904f"/>
<circle cx="392.6" cy="132.4" r="1.1" fill="#43904f"/>
<circle cx="375.7" cy="137.9" r="1.1" fill="#43904f"/>
<circle cx="384.6" cy="144.3" r="1.1" fill="#43904f"/>
<circle cx="384.6" cy="155.7" r="1.1" fill="#43904f"/>
<circle cx="395" cy="154.2" r="1.1" fill="#43904f"/>
<circle cx="399.8" cy="158.7" r="1.1" fill="#43904f"/>
<circle cx="392.3" cy="161.5" r="1.1" fill="#43904f"/>
<circle cx="397.5" cy="160.8" r="1.1" fill="#43904f"/>
<circle cx="394.3" cy="167.5" r="1.1" fill="#43904f"/>
<circle cx="396.6" cy="168.7" r="1.1" fill="#43904f"/>
<circle cx="398.9" cy="171" r="1.1" fill="#43904f"/>
<circle cx="395.5" cy="170.5" r="1.1" fill="#43904f"/>
<circle cx="397.5" cy="173" r="1.1" fill="#43904f"/>
<circle cx="401" cy="172.5" r="1.1" fill="#43904f"/>
<circle cx="399.5" cy="174.5" r="1.1" fill="#43904f"/>
<circle cx="402.5" cy="175" r="1.1" fill="#43904f"/>
<circle cx="393.5" cy="169.5" r="1.1" fill="#43904f"/>
<circle cx="394.8" cy="172.3" r="1.1" fill="#43904f"/>
<circle cx="396.2" cy="174.6" r="1.1" fill="#43904f"/>
<circle cx="400.3" cy="170.2" r="1.1" fill="#43904f"/>
<circle cx="401.6" cy="168.0" r="1.1" fill="#43904f"/>
<circle cx="398.2" cy="176.0" r="1.1" fill="#43904f"/>
<circle cx="402.8" cy="173.8" r="1.1" fill="#43904f"/>
<circle cx="453.8" cy="98.6" r="1.15" fill="#ad1239"/>
<circle cx="453.3" cy="131.3" r="1.15" fill="#ad1239"/>
<circle cx="447.8" cy="134.7" r="1.15" fill="#ad1239"/>
<circle cx="461.6" cy="145" r="1.15" fill="#ad1239"/>
<circle cx="449" cy="150.2" r="1.15" fill="#ad1239"/>
<circle cx="444.2" cy="152.4" r="1.15" fill="#ad1239"/>
<circle cx="458.9" cy="152.5" r="1.15" fill="#ad1239"/>
<circle cx="459.8" cy="154" r="1.15" fill="#ad1239"/>
<circle cx="452.7" cy="157.3" r="1.15" fill="#ad1239"/>
<circle cx="457.1" cy="158" r="1.15" fill="#ad1239"/>
<circle cx="456.8" cy="159.2" r="1.15" fill="#ad1239"/>
<circle cx="442.3" cy="160.7" r="1.15" fill="#ad1239"/>
<circle cx="449.7" cy="161" r="1.15" fill="#ad1239"/>
<circle cx="447.5" cy="161.7" r="1.15" fill="#ad1239"/>
<circle cx="454.2" cy="163.5" r="1.15" fill="#ad1239"/>
<circle cx="444.5" cy="164.4" r="1.15" fill="#ad1239"/>
<circle cx="446.5" cy="166" r="1.15" fill="#ad1239"/>
<circle cx="449" cy="167" r="1.15" fill="#ad1239"/>
<circle cx="451.5" cy="166.5" r="1.15" fill="#ad1239"/>
<circle cx="448" cy="168.5" r="1.15" fill="#ad1239"/>
<circle cx="450.5" cy="169.5" r="1.15" fill="#ad1239"/>
<circle cx="453" cy="168.5" r="1.15" fill="#ad1239"/>
<circle cx="446" cy="170.5" r="1.15" fill="#ad1239"/>
<circle cx="447.5" cy="172.5" r="1.15" fill="#ad1239"/>
<circle cx="445.5" cy="173.5" r="1.15" fill="#ad1239"/>
<circle cx="452" cy="171.5" r="1.15" fill="#ad1239"/>
<circle cx="449.5" cy="165.2" r="1.15" fill="#ad1239"/>
<circle cx="445" cy="168" r="1.15" fill="#ad1239"/>
<circle cx="447.0" cy="167.5" r="1.15" fill="#ad1239"/>
<circle cx="448.6" cy="171.0" r="1.15" fill="#ad1239"/>
<circle cx="450.2" cy="167.8" r="1.15" fill="#ad1239"/>
<circle cx="446.3" cy="169.2" r="1.15" fill="#ad1239"/>
<circle cx="451.6" cy="169.6" r="1.15" fill="#ad1239"/>
<circle cx="444.8" cy="171.8" r="1.15" fill="#ad1239"/>
<circle cx="443.8" cy="174.2" r="1.15" fill="#ad1239"/>
<circle cx="446.8" cy="174.4" r="1.15" fill="#ad1239"/>
<circle cx="449.2" cy="173.0" r="1.15" fill="#ad1239"/>
<line x1="398.3" y1="166.2" x2="399.8" y2="168.6" stroke="#ad1239" stroke-width="1.2"/>
<text x="402.8" y="168.6" font-size="9.3" textLength="30.1" lengthAdjust="spacingAndGlyphs" fill="#231f20" color="#231f20">Pla2g4a</text>
<text x="1.4" y="300.2" font-size="10.6" font-weight="bold" class="b" fill="#000" color="#000">D</text>
<text x="31.2" y="323.2" font-size="9.6" textLength="28.8" lengthAdjust="spacingAndGlyphs" fill="#231f20" color="#231f20">Mouse</text>
<text x="35.7" y="334.6" font-size="8.6" textLength="20.5" lengthAdjust="spacingAndGlyphs" fill="#231f20" color="#231f20">Megs</text>
<line x1="5.5" y1="339.3" x2="86.3" y2="339.3" stroke="#231f20" stroke-width="1.1"/>
<text x="17.5" y="348.8" font-size="8.6" textLength="12.5" lengthAdjust="spacingAndGlyphs" fill="#231f20" color="#231f20">WT</text>
<text x="50" y="348.8" font-size="8.6" textLength="35.5" lengthAdjust="spacingAndGlyphs" fill="#231f20" color="#231f20">Mnk1 KO</text>
<line x1="5.5" y1="351.7" x2="42.5" y2="351.7" stroke="#231f20" stroke-width="1.1"/>
<line x1="47.7" y1="351.7" x2="87.3" y2="351.7" stroke="#231f20" stroke-width="1.1"/>
<rect x="3.8" y="354.5" width="86.4" height="15.3" fill="#d9d9d9"/>
<rect x="3.8" y="364.8" width="86.4" height="5.0" fill="#e4e4e4"/>
<g filter="url(#bb)"><rect x="5.2" y="360.55" width="11.8" height="2.9" rx="1" fill="#1e1e1e"/><rect x="19.6" y="360.35" width="10.799999999999997" height="2.9" rx="1" fill="#1e1e1e"/><rect x="33.5" y="359.90000000000003" width="10.799999999999997" height="2.8" rx="1" fill="#303030"/><rect x="47.8" y="359.45" width="11.700000000000003" height="2.9" rx="1" fill="#959595"/><rect x="62.1" y="358.9" width="11.800000000000004" height="3.0" rx="1" fill="#808080"/><rect x="77.0" y="359.45" width="11.299999999999997" height="2.9" rx="1" fill="#989898"/></g>
<text x="93" y="365.2" font-size="8.8" textLength="23.3" lengthAdjust="spacingAndGlyphs" fill="#231f20" color="#231f20">cPLA2</text>
<rect x="3.8" y="372.4" width="86.4" height="16.7" fill="#d5d5d5"/>
<g filter="url(#bb)"><rect x="5.6" y="376.8" width="13.9" height="8.0" rx="3.6" ry="3.4" fill="#121212"/><rect x="20.1" y="376.8" width="13.399999999999999" height="8.0" rx="3.6" ry="3.4" fill="#121212"/><rect x="34.0" y="377.0" width="13.600000000000001" height="7.600000000000023" rx="3.6" ry="3.4" fill="#121212"/><rect x="48" y="376.8" width="12.600000000000001" height="7.099999999999966" rx="3.6" ry="3.4" fill="#121212"/><rect x="62.0" y="376.3" width="12.599999999999994" height="7.599999999999966" rx="3.6" ry="3.4" fill="#121212"/><rect x="76.5" y="377.2" width="13.099999999999994" height="6.199999999999989" rx="3.6" ry="3.4" fill="#121212"/></g>
<text x="93" y="383.3" font-size="8.8" textLength="24.5" lengthAdjust="spacingAndGlyphs" fill="#231f20" color="#231f20">β-actin</text>
<line x1="172.4" y1="306.4" x2="172.4" y2="389.9" stroke="#111" stroke-width="1.35"/>
<line x1="169.2" y1="389.3" x2="244.2" y2="389.3" stroke="#111" stroke-width="1.3"/>
<line x1="169.6" y1="310.4" x2="172.3" y2="310.4" stroke="#231f20" stroke-width="1"/>
<text x="166.4" y="314.0" font-size="8.4" text-anchor="end" fill="#231f20" color="#231f20">100</text>
<line x1="169.6" y1="326.3" x2="172.3" y2="326.3" stroke="#231f20" stroke-width="1"/>
<text x="166.4" y="329.90000000000003" font-size="8.4" text-anchor="end" fill="#231f20" color="#231f20">80</text>
<line x1="169.6" y1="342.0" x2="172.3" y2="342.0" stroke="#231f20" stroke-width="1"/>
<text x="166.4" y="345.6" font-size="8.4" text-anchor="end" fill="#231f20" color="#231f20">60</text>
<line x1="169.6" y1="357.9" x2="172.3" y2="357.9" stroke="#231f20" stroke-width="1"/>
<text x="166.4" y="361.5" font-size="8.4" text-anchor="end" fill="#231f20" color="#231f20">40</text>
<line x1="169.6" y1="373.7" x2="172.3" y2="373.7" stroke="#231f20" stroke-width="1"/>
<text x="166.4" y="377.3" font-size="8.4" text-anchor="end" fill="#231f20" color="#231f20">20</text>
<line x1="169.6" y1="389.2" x2="172.3" y2="389.2" stroke="#231f20" stroke-width="1"/>
<text x="166.4" y="392.8" font-size="8.4" text-anchor="end" fill="#231f20" color="#231f20">0</text>
<rect x="181.5" y="310.4" width="17.4" height="78.8" fill="#7fa1c6"/>
<rect x="216.3" y="346.1" width="17.6" height="43.1" fill="#e78b9d"/>
<circle cx="181.9" cy="310.4" r="1.65" fill="#1a3558"/>
<circle cx="186.6" cy="310.4" r="1.65" fill="#1a3558"/>
<circle cx="191.3" cy="310.4" r="1.65" fill="#1a3558"/>
<circle cx="196.3" cy="310.4" r="1.65" fill="#1a3558"/>
<line x1="220.3" y1="341.9" x2="229.9" y2="341.9" stroke="#231f20" stroke-width="1.1"/>
<line x1="225" y1="341.9" x2="225" y2="346.5" stroke="#231f20" stroke-width="1.1"/>
<circle cx="225" cy="337.8" r="1.8" fill="#a8143a"/>
<circle cx="225" cy="342.2" r="1.8" fill="#a8143a"/>
<circle cx="225" cy="347.5" r="1.8" fill="#a8143a"/>
<circle cx="225" cy="355.6" r="1.8" fill="#a8143a"/>
<line x1="190.2" y1="389.2" x2="190.2" y2="391.6" stroke="#231f20" stroke-width="1"/>
<line x1="225" y1="389.2" x2="225" y2="391.6" stroke="#231f20" stroke-width="1"/>
<line x1="190.4" y1="298.5" x2="225" y2="298.5" stroke="#231f20" stroke-width="1.1"/>
<line x1="190.4" y1="296.4" x2="190.4" y2="300.6" stroke="#231f20" stroke-width="1"/>
<line x1="225" y1="296.4" x2="225" y2="300.6" stroke="#231f20" stroke-width="1"/>
<circle cx="207.6" cy="292.4" r="1.45" fill="#1a1a1a"/>
<text x="184.2" y="401.9" font-size="8.6" textLength="12" lengthAdjust="spacingAndGlyphs" fill="#231f20" color="#231f20">WT</text>
<text x="207.7" y="401.9" font-size="8.6" textLength="35" lengthAdjust="spacingAndGlyphs" fill="#231f20" color="#231f20">Mnk1 KO</text>
<g transform="translate(135.9,382.9) rotate(-90)"><text x="0" y="0" font-size="8.6" textLength="68" lengthAdjust="spacingAndGlyphs" fill="#231f20" color="#231f20">% cPLA2 expression</text></g>
<g transform="translate(146.3,382.9) rotate(-90)"><text x="0" y="0" font-size="8.6" textLength="70.6" lengthAdjust="spacingAndGlyphs" fill="#231f20" color="#231f20">normalized to β-actin</text></g>
<text x="263.2" y="300.2" font-size="10.6" font-weight="bold" class="b" fill="#000" color="#000">E</text>
<text x="292.4" y="313.7" font-size="10.0" textLength="30.7" lengthAdjust="spacingAndGlyphs" fill="#231f20" color="#231f20">Human</text>
<text x="284.1" y="326.6" font-size="8.6" textLength="47.6" lengthAdjust="spacingAndGlyphs" fill="#231f20" color="#231f20">CD34+ Megs</text>
<line x1="264.2" y1="329.1" x2="352.5" y2="329.1" stroke="#231f20" stroke-width="1.1"/>
<text x="317.9" y="338.9" font-size="8.6" textLength="26.1" lengthAdjust="spacingAndGlyphs" fill="#231f20" color="#231f20">CRISPR</text>
<text x="271.9" y="349" font-size="8.6" textLength="27.6" lengthAdjust="spacingAndGlyphs" fill="#231f20" color="#231f20">Control</text>
<text x="321" y="349" font-size="8.6" textLength="19.3" lengthAdjust="spacingAndGlyphs" fill="#231f20" color="#231f20">Mnk1</text>
<line x1="264.7" y1="351.8" x2="306" y2="351.8" stroke="#231f20" stroke-width="1.1"/>
<line x1="310.9" y1="351.8" x2="352.3" y2="351.8" stroke="#231f20" stroke-width="1.1"/>
<rect x="262.6" y="354.0" width="89.9" height="16.8" fill="#d8d8d8"/>
<rect x="262.6" y="365.0" width="89.9" height="5.8" fill="#e2e2e2"/>
<line x1="309.1" y1="354" x2="309.1" y2="370.8" stroke="#ececec" stroke-width="0.9"/>
<g filter="url(#bb)"><rect x="264.9" y="360.75" width="12.400000000000034" height="2.9" rx="1" fill="#161616"/><rect x="280.8" y="360.55" width="11.399999999999977" height="2.9" rx="1" fill="#161616"/><rect x="295.6" y="360.25" width="11.599999999999966" height="2.9" rx="1" fill="#161616"/><rect x="310.5" y="361.55" width="11.300000000000011" height="2.9" rx="1" fill="#2e2e2e"/><rect x="324.8" y="361.55" width="11.399999999999977" height="2.9" rx="1" fill="#2e2e2e"/><rect x="339.7" y="361.55" width="12.300000000000011" height="2.9" rx="1" fill="#2e2e2e"/><rect x="310.5" y="358.3" width="11.300000000000011" height="1.8" fill="#b8b8b8"/><rect x="324.8" y="358.3" width="11.399999999999977" height="1.8" fill="#b8b8b8"/><rect x="339.7" y="358.3" width="12.300000000000011" height="1.8" fill="#b8b8b8"/></g>
<text x="356.2" y="365.9" font-size="8.8" textLength="26.1" lengthAdjust="spacingAndGlyphs" fill="#231f20" color="#231f20">cPLA2</text>
<rect x="262.6" y="373.3" width="89.9" height="14.4" fill="#d6d6d6"/>
<g filter="url(#bb)"><rect x="264.0" y="377.6" width="14.800000000000011" height="6.6" rx="3.4" ry="3.0" fill="#0e0e0e"/><rect x="279.3" y="377.6" width="13.399999999999977" height="6.6" rx="3.4" ry="3.0" fill="#0e0e0e"/><rect x="293.6" y="377.6" width="14.799999999999955" height="6.6" rx="3.4" ry="3.0" fill="#0e0e0e"/><rect x="309" y="377.6" width="13.300000000000011" height="6.6" rx="3.4" ry="3.0" fill="#0e0e0e"/><rect x="322.8" y="377.6" width="13.899999999999977" height="6.6" rx="3.4" ry="3.0" fill="#0e0e0e"/><rect x="337.7" y="377.6" width="14.699999999999989" height="6.6" rx="3.4" ry="3.0" fill="#0e0e0e"/></g>
<text x="356.2" y="383.1" font-size="8.8" textLength="24.6" lengthAdjust="spacingAndGlyphs" fill="#231f20" color="#231f20">β-actin</text>
<line x1="435.8" y1="306.3" x2="435.8" y2="390.0" stroke="#111" stroke-width="1.35"/>
<line x1="432.8" y1="389.4" x2="516.5" y2="389.4" stroke="#111" stroke-width="1.3"/>
<line x1="433.1" y1="310.5" x2="435.8" y2="310.5" stroke="#231f20" stroke-width="1"/>
<text x="429.6" y="314.1" font-size="8.4" text-anchor="end" fill="#231f20" color="#231f20">100</text>
<line x1="433.1" y1="326.3" x2="435.8" y2="326.3" stroke="#231f20" stroke-width="1"/>
<text x="429.6" y="329.90000000000003" font-size="8.4" text-anchor="end" fill="#231f20" color="#231f20">80</text>
<line x1="433.1" y1="342.1" x2="435.8" y2="342.1" stroke="#231f20" stroke-width="1"/>
<text x="429.6" y="345.70000000000005" font-size="8.4" text-anchor="end" fill="#231f20" color="#231f20">60</text>
<line x1="433.1" y1="357.9" x2="435.8" y2="357.9" stroke="#231f20" stroke-width="1"/>
<text x="429.6" y="361.5" font-size="8.4" text-anchor="end" fill="#231f20" color="#231f20">40</text>
<line x1="433.1" y1="373.7" x2="435.8" y2="373.7" stroke="#231f20" stroke-width="1"/>
<text x="429.6" y="377.3" font-size="8.4" text-anchor="end" fill="#231f20" color="#231f20">20</text>
<line x1="433.1" y1="389.4" x2="435.8" y2="389.4" stroke="#231f20" stroke-width="1"/>
<text x="429.6" y="393.0" font-size="8.4" text-anchor="end" fill="#231f20" color="#231f20">0</text>
<rect x="445.8" y="310.5" width="17.3" height="78.9" fill="#7fa1c6"/>
<rect x="487.2" y="336.0" width="17.2" height="53.4" fill="#e78b9d"/>
<circle cx="447.9" cy="310.5" r="1.65" fill="#1a3558"/>
<circle cx="454.2" cy="310.5" r="1.65" fill="#1a3558"/>
<circle cx="460.5" cy="310.5" r="1.65" fill="#1a3558"/>
<rect x="493.9" y="331.2" width="3.5" height="8.9" rx="1.7" fill="#a8143a"/>
<line x1="491" y1="333.1" x2="500.2" y2="333.1" stroke="#231f20" stroke-width="1.1"/>
<line x1="454.4" y1="389.4" x2="454.4" y2="391.8" stroke="#231f20" stroke-width="1"/>
<line x1="495.8" y1="389.4" x2="495.8" y2="391.8" stroke="#231f20" stroke-width="1"/>
<line x1="454.2" y1="298.5" x2="496" y2="298.5" stroke="#231f20" stroke-width="1.1"/>
<line x1="454.2" y1="296.4" x2="454.2" y2="300.6" stroke="#231f20" stroke-width="1"/>
<line x1="496" y1="296.4" x2="496" y2="300.6" stroke="#231f20" stroke-width="1"/>
<circle cx="475.2" cy="292.6" r="1.45" fill="#1a1a1a"/>
<text x="440.7" y="401.9" font-size="8.6" textLength="26" lengthAdjust="spacingAndGlyphs" fill="#231f20" color="#231f20">Control</text>
<text x="470.1" y="401.9" font-size="8.6" textLength="49.6" lengthAdjust="spacingAndGlyphs" fill="#231f20" color="#231f20">CRISPR Mnk1</text>
<g transform="translate(399.6,382.9) rotate(-90)"><text x="0" y="0" font-size="8.6" textLength="68" lengthAdjust="spacingAndGlyphs" fill="#231f20" color="#231f20">% cPLA2 expression</text></g>
<g transform="translate(411.0,382.9) rotate(-90)"><text x="0" y="0" font-size="8.6" textLength="70.6" lengthAdjust="spacingAndGlyphs" fill="#231f20" color="#231f20">normalized to β-actin</text></g>
</svg>
</body></html>
